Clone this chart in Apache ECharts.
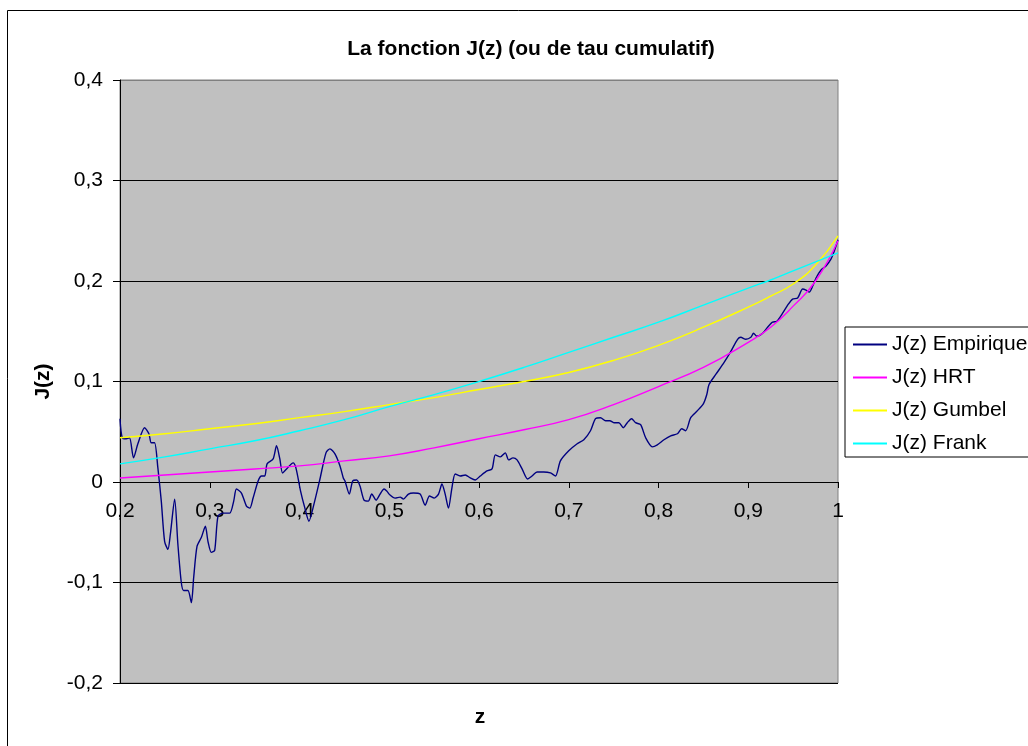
<!DOCTYPE html>
<html>
<head>
<meta charset="utf-8">
<title>La fonction J(z)</title>
<script src="https://cdn.jsdelivr.net/npm/echarts@6/dist/echarts.min.js"></script>
<style>
  html, body { margin: 0; padding: 0; background: #fff; }
  #chart { width: 1028px; height: 746px; }
</style>
</head>
<body>
<div id="chart"></div>
<script>
const zEmp = [0.200, 0.2025, 0.2069, 0.2106, 0.2151, 0.2199, 0.2274, 0.2322, 0.2348, 0.2385,
  0.2422, 0.2460, 0.2497, 0.2534, 0.2561, 0.2609, 0.2645, 0.2683, 0.2709, 0.2757,
  0.2795, 0.2821, 0.2858, 0.2907, 0.2951, 0.2980, 0.3018, 0.3055, 0.3092, 0.3148,
  0.3223, 0.3267, 0.3297, 0.3353, 0.3409, 0.3446, 0.3483, 0.3539, 0.3577, 0.3613,
  0.3639, 0.3706, 0.3744, 0.3781, 0.3811, 0.3856, 0.3929, 0.3960, 0.4012, 0.4060,
  0.4105, 0.4161, 0.4228, 0.4295, 0.4339, 0.4395, 0.4451, 0.4488, 0.4507, 0.4555,
  0.4593, 0.4637, 0.4674, 0.4719, 0.4767, 0.4805, 0.4853, 0.4898, 0.4942, 0.4972,
  0.5009, 0.5065, 0.5121, 0.5158, 0.5214, 0.5269, 0.5344, 0.5400, 0.5448, 0.5501,
  0.5549, 0.5587, 0.5623, 0.5660, 0.5698, 0.5735, 0.5791, 0.5847, 0.5903, 0.5958,
  0.6014, 0.6089, 0.6145, 0.6182, 0.6238, 0.6293, 0.6330, 0.6379, 0.6424, 0.6480,
  0.6542, 0.6591, 0.6647, 0.6721, 0.6796, 0.6852, 0.6907, 0.7000, 0.7094, 0.7168,
  0.7242, 0.7298, 0.7354, 0.7410, 0.7458, 0.7503, 0.7558, 0.7608, 0.7652, 0.7700,
  0.7745, 0.7801, 0.7857, 0.7931, 0.7987, 0.8061, 0.8136, 0.8211, 0.8258, 0.8303,
  0.8359, 0.8434, 0.8501, 0.8538, 0.8563, 0.8638, 0.8731, 0.8806, 0.8881, 0.8917,
  0.8973, 0.9029, 0.9059, 0.9096, 0.9160, 0.9215, 0.9271, 0.9319, 0.9383, 0.9439,
  0.9494, 0.9550, 0.9606, 0.9643, 0.9680, 0.9718, 0.9755, 0.9811, 0.9867, 0.9923,
  0.9960, 1.000]
const jEmp = [0.063, 0.044, 0.043, 0.044, 0.024, 0.038, 0.054, 0.048, 0.039, 0.039,
  0.014, -0.019, -0.059, -0.067, -0.052, -0.017, -0.062, -0.100, -0.108, -0.108,
  -0.120, -0.095, -0.064, -0.055, -0.044, -0.059, -0.070, -0.068, -0.034, -0.031,
  -0.031, -0.019, -0.007, -0.011, -0.024, -0.026, -0.016, 0.001, 0.006, 0.006,
  0.018, 0.023, 0.036, 0.023, 0.009, 0.013, 0.019, 0.014, -0.009, -0.026,
  -0.039, -0.022, 0.003, 0.029, 0.033, 0.028, 0.016, 0.004, 0.001, -0.012,
  0.001, 0.002, -0.004, -0.018, -0.019, -0.012, -0.018, -0.012, -0.007, -0.009,
  -0.013, -0.016, -0.015, -0.017, -0.012, -0.011, -0.012, -0.023, -0.014, -0.016,
  -0.012, -0.002, -0.012, -0.026, -0.006, 0.008, 0.006, 0.007, 0.004, 0.002,
  0.006, 0.011, 0.013, 0.027, 0.025, 0.029, 0.022, 0.024, 0.022, 0.013,
  0.003, 0.006, 0.010, 0.010, 0.009, 0.006, 0.021, 0.031, 0.038, 0.042,
  0.051, 0.063, 0.064, 0.061, 0.061, 0.059, 0.059, 0.054, 0.059, 0.063,
  0.059, 0.057, 0.044, 0.035, 0.037, 0.042, 0.046, 0.048, 0.053, 0.051,
  0.064, 0.071, 0.078, 0.087, 0.097, 0.107, 0.119, 0.130, 0.142, 0.144,
  0.142, 0.144, 0.148, 0.145, 0.148, 0.154, 0.159, 0.160, 0.168, 0.176,
  0.182, 0.183, 0.192, 0.191, 0.189, 0.195, 0.203, 0.211, 0.215, 0.222,
  0.230, 0.241]

// fitted copulas
const zTheo = [0.2, 0.25, 0.3, 0.35, 0.4, 0.45, 0.5, 0.55, 0.6, 0.65, 0.7, 0.75, 0.8, 0.85, 0.9, 0.925, 0.95, 0.975, 1]
const jHRT = [0.004, 0.007, 0.010, 0.013, 0.016, 0.021, 0.026, 0.034, 0.043, 0.052, 0.062, 0.077, 0.095, 0.114, 0.139, 0.154, 0.175, 0.200, 0.240]
const jGumbel = [0.044, 0.048, 0.053, 0.058, 0.064, 0.070, 0.077, 0.084, 0.092, 0.100, 0.109, 0.121, 0.136, 0.154, 0.174, 0.185, 0.197, 0.216, 0.245]
const jFrank = [0.018, 0.025, 0.033, 0.041, 0.051, 0.062, 0.075, 0.087, 0.100, 0.114, 0.129, 0.144, 0.159, 0.176, 0.193, 0.201, 0.210, 0.219, 0.228]

const seriesNames = ['J(z) Empirique', 'J(z) HRT', 'J(z) Gumbel', 'J(z) Frank']
const seriesColors = ['#000080', '#FF00FF', '#FFFF00', '#00FFFF']

function pairs(xs, ys) {
  return xs.map(function (x, i) { return [x, ys[i]] })
}
function comma(v) {
  return String(+v.toFixed(1)).replace('.', ',')
}

const FONT = '"Liberation Sans", Arial, sans-serif'

var chartDom = document.getElementById('chart');
var myChart = echarts.init(chartDom);
var option;

option = {
  backgroundColor: '#fff',
  animation: false,
  textStyle: { fontFamily: FONT, color: '#000' },
  title: {
    text: 'La fonction J(z) (ou de tau cumulatif)',
    left: 526,
    textAlign: 'center',
    top: 34,
    textStyle: { fontFamily: FONT, fontSize: 21, fontWeight: 'bold', color: '#000' }
  },
  graphic: [
    {
      type: 'rect',
      shape: { x: 7.5, y: 10.5, width: 1040, height: 760 },
      style: { fill: 'none', stroke: '#000', lineWidth: 1 },
      silent: true
    },
    {
      type: 'text',
      x: 480,
      y: 717,
      style: {
        text: 'z',
        fontFamily: FONT,
        fontSize: 21,
        fontWeight: 'bold',
        fill: '#000',
        textAlign: 'center',
        textVerticalAlign: 'middle'
      }
    }
  ],
  legend: {
    orient: 'vertical',
    left: 845,
    top: 327,
    padding: [7, 8, 3, 8],
    itemGap: 12,
    itemWidth: 34,
    itemHeight: 2,
    icon: 'rect',
    backgroundColor: '#fff',
    borderColor: '#000',
    borderWidth: 1,
    borderRadius: 0,
    textStyle: { fontFamily: FONT, fontSize: 21, lineHeight: 21, color: '#000' },
    data: seriesNames
  },
  grid: {
    left: 120,
    right: 190,
    top: 80,
    bottom: 63,
    show: true,
    backgroundColor: '#C0C0C0',
    borderColor: '#808080',
    borderWidth: 1,
    containLabel: false
  },
  xAxis: {
    type: 'value',
    min: 0.2,
    max: 1,
    interval: 0.1,
    // axis crosses at J = 0 : 2/6 of the 603 px plot height above the bottom
    offset: -201,
    axisLine: { onZero: false, lineStyle: { color: '#000', width: 1 } },
    axisTick: { show: true, inside: false, length: 6, lineStyle: { color: '#000' } },
    axisLabel: { margin: 19, fontSize: 21, fontFamily: FONT, color: '#000', formatter: comma },
    splitLine: { show: false }
  },
  yAxis: {
    type: 'value',
    min: -0.2,
    max: 0.4,
    interval: 0.1,
    name: 'J(z)',
    nameLocation: 'middle',
    nameRotate: 90,
    nameGap: 66,
    nameTextStyle: { fontFamily: FONT, fontSize: 21, fontWeight: 'bold', color: '#000' },
    axisLine: { show: true, onZero: false, lineStyle: { color: '#000', width: 1 } },
    axisTick: { show: true, inside: false, length: 7, lineStyle: { color: '#000' } },
    axisLabel: { margin: 17, fontSize: 21, fontFamily: FONT, color: '#000', formatter: comma },
    splitLine: {
      show: true,
      lineStyle: { color: ['#000', '#000', '#000', '#000', '#000', '#000', '#808080'], width: 1 }
    }
  },
  series: [
    {
      name: seriesNames[0],
      type: 'line',
      data: pairs(zEmp, jEmp),
      symbol: 'none',
      smooth: 0.25,
      color: seriesColors[0],
      lineStyle: { width: 1.4, color: seriesColors[0] },
      z: 3
    },
    {
      name: seriesNames[1],
      type: 'line',
      data: pairs(zTheo, jHRT),
      symbol: 'none',
      smooth: 0.5,
      color: seriesColors[1],
      lineStyle: { width: 1.4, color: seriesColors[1] },
      z: 4
    },
    {
      name: seriesNames[2],
      type: 'line',
      data: pairs(zTheo, jGumbel),
      symbol: 'none',
      smooth: 0.5,
      color: seriesColors[2],
      lineStyle: { width: 1.4, color: seriesColors[2] },
      z: 5
    },
    {
      name: seriesNames[3],
      type: 'line',
      data: pairs(zTheo, jFrank),
      symbol: 'none',
      smooth: 0.5,
      color: seriesColors[3],
      lineStyle: { width: 1.4, color: seriesColors[3] },
      z: 6
    }
  ]
};

option && myChart.setOption(option);
</script>
</body>
</html>
